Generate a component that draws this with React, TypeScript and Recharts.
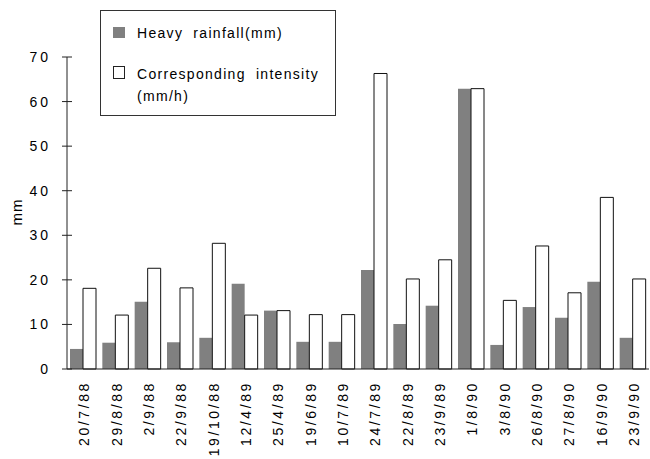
import { BarChart, Bar, XAxis, YAxis } from "recharts";

const dates = [
  "20/7/88", "29/8/88", "2/9/88", "22/9/88", "19/10/88", "12/4/89",
  "25/4/89", "19/6/89", "10/7/89", "24/7/89", "22/8/89", "23/9/89",
  "1/8/90", "3/8/90", "26/8/90", "27/8/90", "16/9/90", "23/9/90",
];
const rainfall = [4.5, 5.9, 15.1, 6.0, 7.0, 19.1, 13.1, 6.1, 6.1, 22.2, 10.1, 14.2, 62.9, 5.4, 13.9, 11.5, 19.6, 7.0];
const intensity = [18.1, 12.1, 22.6, 18.2, 28.2, 12.1, 13.1, 12.2, 12.2, 66.3, 20.2, 24.5, 62.9, 15.4, 27.6, 17.1, 38.5, 20.2];
const yTicks = [0, 10, 20, 30, 40, 50, 60, 70];

const data = dates.map((d, i) => ({ date: d, rain: rainfall[i], intensity: intensity[i] }));

const font = "'Liberation Sans', Arial, Helvetica, sans-serif";

function YTick({ x, y, payload }: any) {
  return (
    <g>
      <line x1={x - 5} x2={x + 5} y1={y} y2={y} stroke="#222" strokeWidth={1} />
      <text x={x - 16} y={y} dy="0.36em" textAnchor="end" fontSize={14} letterSpacing={3}
        fill="#000" fontFamily={font}>
        {payload.value}
      </text>
    </g>
  );
}

function XTick({ x, y, payload }: any) {
  const ty = y + 12;
  return (
    <text x={x + 1} y={ty} dy="0.36em" textAnchor="end" fontSize={14} letterSpacing={2.6}
      fill="#000" fontFamily={font} transform={`rotate(-90, ${x + 1}, ${ty})`}>
      {payload.value}
    </text>
  );
}

// legend drawn as an overlay so it does not take space from the plot
function LegendBox() {
  const row: React.CSSProperties = { display: "flex", alignItems: "flex-start", position: "absolute", left: 12 };
  const txt: React.CSSProperties = { fontSize: 14, letterSpacing: 1.3, wordSpacing: 5, color: "#000", lineHeight: "22px" };
  return (
    <div style={{ position: "absolute", left: 100, top: 10, width: 236, height: 106, border: "1px solid #333",
      boxSizing: "border-box", fontFamily: font, background: "#fff" }}>
      <div style={{ ...row, top: 11 }}>
        <div style={{ width: 12, height: 11, background: "#808080", marginTop: 5 }} />
        <span style={{ ...txt, marginLeft: 12 }}>Heavy rainfall(mm)</span>
      </div>
      <div style={{ ...row, top: 52 }}>
        <div style={{ width: 12, height: 13, background: "#fff", border: "1px solid #222", boxSizing: "border-box", marginTop: 3 }} />
        <span style={{ ...txt, marginLeft: 12 }}>
          Corresponding intensity<br />(mm/h)
        </span>
      </div>
    </div>
  );
}

export default function App() {
  return (
    <div style={{ position: "absolute", left: 0, top: 0, width: 650, height: 459 }}>
      <BarChart width={650} height={459} data={data} margin={{ top: 57, right: 1, bottom: 0, left: 0 }}
        barGap={0} barSize={13}>
        <XAxis dataKey="date" height={90} axisLine={{ stroke: "#222" }} tickLine={false}
          tickSize={0} tickMargin={0} tick={<XTick />} interval={0} />
        <YAxis width={67} domain={[0, 70]} ticks={yTicks} axisLine={{ stroke: "#222" }}
          tickLine={false} tickSize={0} tickMargin={0} tick={<YTick />} />
        <Bar dataKey="rain" name="Heavy rainfall(mm)" fill="#808080" isAnimationActive={false} />
        <Bar dataKey="intensity" name="Corresponding intensity (mm/h)" fill="#fff" stroke="#111"
          strokeWidth={1} isAnimationActive={false} />
        <text x={17} y={212} dy="0.36em" textAnchor="middle" fontSize={15} letterSpacing={1}
          fontFamily={font} fill="#000" transform="rotate(-90, 17, 212)">mm</text>
      </BarChart>
      <LegendBox />
    </div>
  );
}
